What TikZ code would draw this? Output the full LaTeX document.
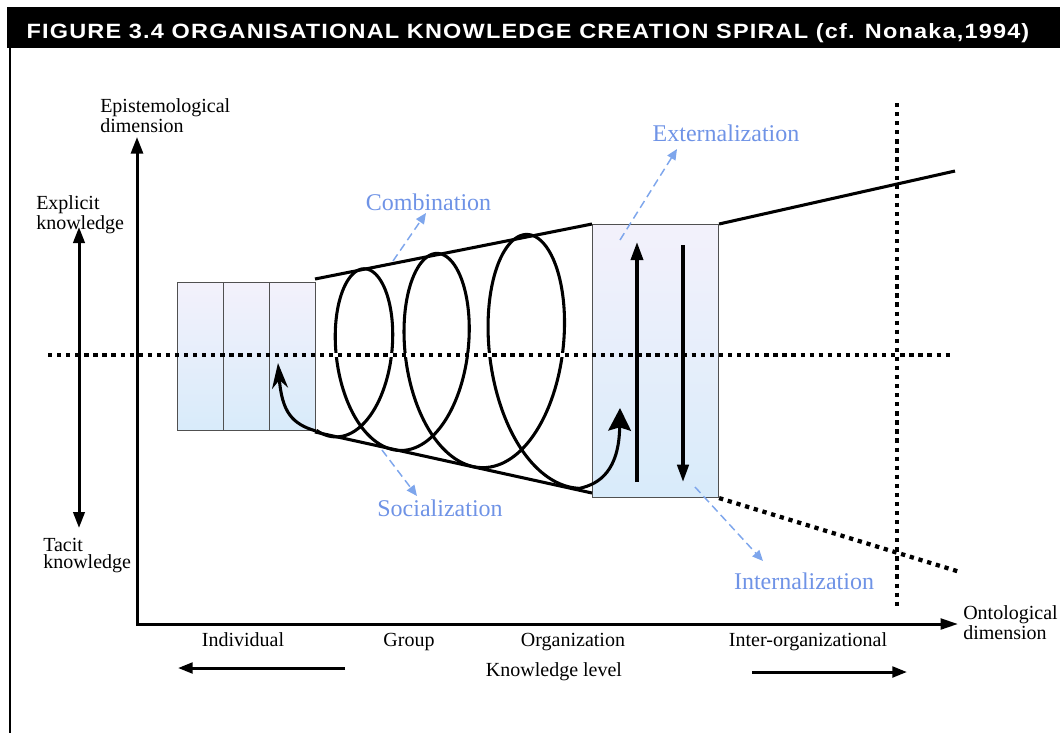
\documentclass[tikz,border=0pt]{standalone}
\usepackage{fontspec}
\setmainfont{Liberation Serif}
\newfontfamily\titlefont[LetterSpace=5]{Liberation Sans}
\usetikzlibrary{arrows.meta}
\definecolor{bluelab}{HTML}{6F93E6}
\definecolor{bluearr}{HTML}{7EA6EC}
\definecolor{boxtop}{HTML}{F3F1FB}
\definecolor{boxbot}{HTML}{D8EBFA}
\definecolor{boxedge}{HTML}{505050}
\begin{document}
\begin{tikzpicture}[x=0.75pt,y=-0.75pt,
  lab/.style={font=\fontsize{15}{13}\selectfont, inner sep=0pt},
  bluelabel/.style={font=\fontsize{18}{20}\selectfont, text=bluelab, inner sep=0pt, anchor=base},
  thickline/.style={line width=2.3pt},
  dotline/.style={line width=3pt, dash pattern=on 3.2pt off 3.6pt},
  bluedash/.style={bluearr, line width=1.1pt, dash pattern=on 6pt off 3.5pt, -{Triangle[length=8pt,width=7pt]}},
  knowbox/.style={draw=boxedge, line width=0.8pt, top color=boxtop, bottom color=boxbot, inner sep=0pt, anchor=north west},
  cell/.style={knowbox, minimum width=34.5pt, minimum height=111pt},
  declare function={sf(\a)=(\a-90)/360; cxf(\a)=365+64.5*sf(\a)+8.5*sf(\a)*sf(\a); hf(\a)=76.7+0.2105*(cxf(\a)-315);}
]
\useasboundingbox (0,0) rectangle (1060,733);
% title bar
\fill[black] (7,7) rectangle (1060,48);
\node[anchor=base, text=white, inner sep=0pt] (title) at (528,38.5)
  {\resizebox{752pt}{\height}{\titlefont\bfseries\fontsize{15.5}{17}\selectfont FIGURE 3.4 ORGANISATIONAL KNOWLEDGE CREATION SPIRAL (cf. Nonaka,1994)}};
\coordinate (bt) at (9.5,48);
\coordinate (bb) at (9.5,733);
\draw[line width=1.5pt] (bt) -- (bb);

% boxes
\node[cell] (ind1) at (177,282) {};
\node[cell] (ind2) at (223,282) {};
\node[cell] (ind3) at (269,282) {};
\node[knowbox, minimum width=94.5pt, minimum height=204.75pt] (org) at (592,224) {};

% cone
\coordinate (ct1) at (315,279);
\coordinate (cb1) at (315,432);
\coordinate (cb2) at (592,493);
\coordinate (ext2) at (955,171);
\coordinate (dl2) at (960,572);
\draw[thickline] (ct1) -- (org.north west);
\draw[thickline] (cb1) -- (cb2);
\draw[thickline] (org.north east) -- (ext2);

% spiral
\coordinate (sptip) at (620,408);
\draw[line width=2.3pt, line join=round, -{Stealth[length=17pt,width=17pt,inset=2.5pt]}]
  plot[smooth, domain=-112:990, samples=320] ({cxf(\x)+0.5*hf(\x)*cos(\x)}, {356-hf(\x)*sin(\x)})
  .. controls (600,484) and (619,470) .. (sptip);
\coordinate (lftip) at (278,363);
\draw[line width=2.3pt, -{Stealth[length=19pt,width=12pt]}] (ind3.south east) .. controls (292,424) and (282,412) .. (lftip);

% dotted lines
\coordinate (h1) at (48,355);
\coordinate (h2) at (953,355);
\coordinate (w1) at (320,355);
\coordinate (w2) at (590,355);
\coordinate (v1) at (897,103);
\coordinate (v2) at (897,607);
\draw[white, line width=3pt] (w1) -- (w2);
\draw[dotline] (h1) -- (h2);
\draw[dotline] (v1) -- (v2);
\draw[dotline, line width=3.2pt] (org.south east) -- (dl2);

% org arrows
\coordinate (u1) at (637,482);
\coordinate (u2) at (637,242);
\coordinate (d1) at (683,245);
\coordinate (d2) at (683,482);
\draw[line width=2.6pt, -{Triangle[length=13.5pt,width=9pt]}] (u1) -- (u2);
\draw[line width=2.6pt, -{Triangle[length=13pt,width=8.5pt]}] (d1) -- (d2);

% axes
\coordinate (O) at (137,624);
\coordinate (ytip) at (137,137);
\coordinate (xtip) at (958,624);
\draw[line width=2.25pt, {Triangle[length=12.5pt,width=9pt]}-{Triangle[length=13pt,width=8pt]}] (ytip) -- (O) -- (xtip);
\coordinate (ex1) at (79,227);
\coordinate (ex2) at (79,528);
\draw[line width=2.25pt, {Triangle[length=12pt,width=8.5pt]}-{Triangle[length=12pt,width=8.5pt]}] (ex1) -- (ex2);
\coordinate (kl1) at (345,668);
\coordinate (kl2) at (178,668);
\coordinate (kr1) at (752,672);
\coordinate (kr2) at (907,672);
\draw[line width=2.25pt, -{Triangle[length=11pt,width=8pt]}] (kl1) -- (kl2);
\draw[line width=2.25pt, -{Triangle[length=11pt,width=8pt]}] (kr1) -- (kr2);

% black labels
\node[lab, anchor=north west, align=left] (epi) at (100,98.5) {Epistemological\\dimension};
\node[lab, anchor=north west, align=left] (expl) at (36,195.5) {Explicit\\knowledge};
\node[lab, anchor=north west, align=left] (tacit) at (43,537.5) {Tacit\\knowledge};
\node[lab, anchor=north west, align=left] (onto) at (963,605.5) {Ontological\\dimension};
\node[lab, anchor=base] (indiv) at (243,646) {Individual};
\node[lab, anchor=base] (group) at (409,646) {Group};
\node[lab, anchor=base] (orgn) at (573,646) {Organization};
\node[lab, anchor=base] (inter) at (808,646) {Inter-organizational};
\node[lab, anchor=base] (klevel) at (554,676) {Knowledge level};

% blue labels and dashed arrows
\node[bluelabel] (comb) at (428.5,210) {Combination};
\node[bluelabel] (soc) at (440,516) {Socialization};
\node[bluelabel] (extl) at (726,141) {Externalization};
\node[bluelabel] (intl) at (804,589) {Internalization};
\coordinate (cA) at (393,261);
\coordinate (cB) at (426,213);
\coordinate (sA) at (382,450);
\coordinate (sB) at (417,496);
\coordinate (eA) at (620,240);
\coordinate (eB) at (677,149);
\coordinate (iA) at (695,487);
\coordinate (iB) at (763,561);
\draw[bluedash] (cA) -- (cB);
\draw[bluedash] (sA) -- (sB);
\draw[bluedash] (eA) -- (eB);
\draw[bluedash] (iA) -- (iB);
\end{tikzpicture}
\end{document}
